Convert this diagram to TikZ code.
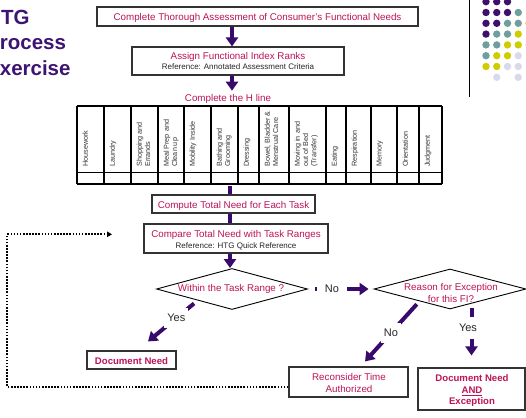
\documentclass[tikz,border=0pt]{standalone}
\usepackage{fontspec}
\setmainfont{Liberation Sans}
\usetikzlibrary{shapes.geometric,arrows.meta,calc}
\definecolor{crim}{HTML}{BC1456}
\definecolor{ttl}{HTML}{3D1472}
\definecolor{arw}{HTML}{380A6B}
\definecolor{dP}{HTML}{3E0F6C}
\definecolor{dT}{HTML}{6E9E9D}
\definecolor{dY}{HTML}{CFCC00}
\definecolor{dL}{HTML}{D9D9EC}
\definecolor{edge}{HTML}{333333}
\begin{document}
\begin{tikzpicture}[x=1pt,y=-1pt,
  box/.style={draw=edge, line width=1.1pt, fill=white, inner sep=0pt},
  txt/.style={anchor=base, inner sep=0pt, text=crim, font=\fontsize{9.8}{11}\selectfont},
  btxt/.style={txt, font=\bfseries\fontsize{9.6}{11}\selectfont},
  reftxt/.style={anchor=base, inner sep=0pt, text=black!85, font=\fontsize{8}{9}\selectfont},
  flow/.style={draw=arw, line width=4pt},
  arr/.style={flow, -{Triangle[length=9pt,width=12pt]}},
  lbl/.style={fill=white, text=black!85, font=\fontsize{11}{13}\selectfont, inner xsep=3pt},
  hdr/.style={rotate=90, anchor=north west, align=left, inner sep=0pt, text=black!80, font=\fontsize{7.2}{8.2}\selectfont},
  dec/.style={diamond, draw=black, line width=0.9pt, inner sep=0pt},
  ttlf/.style={anchor=base west, inner sep=0pt, text=ttl, font=\bfseries\fontsize{20.5}{24}\selectfont},
  loopline/.style={draw=black, line width=2pt, dash pattern=on 1.6pt off 1.5pt, -{Triangle[length=5pt,width=5.5pt]}},
]
\useasboundingbox (0,0) rectangle (526,417);
\fill[white] (0,0) rectangle (526,417);
\begin{scope}
\clip (0,0) rectangle (526,417);

% title
\node[ttlf] (t1) at (-14,25) {HTG};
\node[ttlf] (t2) at (-14,50) {Process};
\node[ttlf] (t3) at (-14,76) {Exercise};

% decoration top right
\draw[line width=0.8pt] (469,0) -- (469,97);
\foreach \c/\r/\col in {0/0/dP,1/0/dP,2/0/dP,
  0/1/dP,1/1/dP,2/1/dP,3/1/dT,
  0/2/dP,1/2/dP,2/2/dT,3/2/dT,4/2/dY,
  0/3/dP,1/3/dT,2/3/dT,3/3/dY,
  0/4/dT,1/4/dT,2/4/dY,3/4/dY,4/4/dL,
  0/5/dT,1/5/dY,2/5/dY,3/5/dL,
  0/6/dY,1/6/dY,2/6/dL,3/6/dL,
  1/7/dL,3/7/dL}
  \fill[\col] ({486+10.75*\c},{1.7+10.8*\r}) circle (3.7pt);

% top boxes
\node[box, minimum width=321pt, minimum height=19pt] (b1) at (257.5,16.5) {};
\node[txt] (b1t) at (257.5,20.5) {Complete Thorough Assessment of Consumer's Functional Needs};
\node[box, minimum width=212pt, minimum height=28pt] (b2) at (238,61) {};
\node[txt] (b2t) at (238,60) {Assign Functional Index Ranks};
\node[reftxt] (b2r) at (238,69.3) {Reference: Annotated Assessment Criteria};
\node[txt, inner sep=3pt] (hl) at (228,101) {Complete the H line};

\draw[arr] ([xshift=-6pt]b2.north |- b1.south) -- ([xshift=-6pt]b2.north);
\draw[arr] ([xshift=-6pt]b2.south) -- ([xshift=-6pt]b2.south |- hl.north);

% table
\begin{scope}[line width=1.1pt]
\draw (77,106) -- (442,106);
\draw (77,172.5) -- (442,172.5);
\draw (77,184) -- (442,184);
\foreach \x in {77,104,131,158,184,211,238,259,289,326,346,371,397,419,442}
  \draw (\x,106) -- (\x,184);
\end{scope}
\foreach \x/\t in {77/Housework, 104/Laundry, 131/{Shopping and\\Errands},
  158/{Meal Prep and\\Clean up}, 184/Mobility Inside, 211/{Bathing and\\Grooming},
  238/Dressing, 259/{Bowel, Bladder \&\\Menstrual Care},
  289/{Moving in and\\out of Bed\\(Transfer)}, 326/Eating, 346/Respiration,
  371/Memory, 397/Orientation, 419/Judgment}
  \node[hdr] at ({\x+5.5},167) {\t};
\coordinate (tb) at (230,184);

% compute / compare
\node[box, minimum width=163pt, minimum height=18pt] (cp) at (233.5,204) {};
\node[txt] (cpt) at (233.5,208) {Compute Total Need for Each Task};
\node[box, minimum width=184pt, minimum height=29pt] (cm) at (236,238.5) {};
\node[txt] (cmt) at (236,237.8) {Compare Total Need with Task Ranges};
\node[reftxt] (cmr) at (236,248) {Reference: HTG Quick Reference};

\draw[flow] ([yshift=-2pt]tb) -- (tb |- cp.north);
\draw[flow] (tb |- cp.south) -- (tb |- cm.north);

% decisions
\node[dec, minimum width=151pt, minimum height=41pt] (d1) at (232,289) {};
\node[txt] (d1t) at (231,291) {Within the Task Range ?};
\node[dec, minimum width=152pt, minimum height=40pt] (d2) at (450,289) {};
\node[txt] (d2t) at (451,290.5) {Reason for Exception};
\node[txt] (d2u) at (451,302.5) {for this FI?};

\draw[arr] (tb |- cm.south) -- (tb |- d1.north);

% outcome boxes
\node[box, minimum width=89pt, minimum height=18pt] (dn) at (131.5,360) {};
\node[btxt] (dnt) at (131.5,364) {Document Need};
\node[box, minimum width=119pt, minimum height=30pt] (rc) at (348.5,382) {};
\node[txt] (rct) at (349,380) {Reconsider Time};
\node[txt] (rcu) at (349,392.7) {Authorized};
\node[box, minimum width=107pt, minimum height=42pt] (dne) at (471.5,389) {};
\node[btxt] (dnet) at (472,381.5) {Document Need};
\node[btxt] (dneu) at (472,393.3) {\underline{AND}};
\node[btxt] (dnev) at (472,404.5) {Exception};

% decision branches
\draw[arr] ([yshift=-4pt]d1.south west) -- node[lbl, pos=0.385, inner ysep=6.5pt] (y1) {Yes} ([xshift=16.5pt,yshift=9pt]dn.north);
\draw[arr] ([xshift=7pt]d1.east) -- node[lbl, pos=0.315, inner xsep=8pt, inner ysep=2pt] (n1) {No} ([xshift=-5pt]d2.west);
\draw[arr] ([xshift=5pt,yshift=-5pt]d2.south west) -- node[lbl, pos=0.5, inner ysep=6.5pt] (n2) {No} ([xshift=16.5pt,yshift=5pt]rc.north);
\draw[arr] ([xshift=21.5pt,yshift=1pt]d2.south) -- node[lbl, pos=0.417, inner ysep=7.5pt, xshift=-3.5pt] (y2) {Yes} ([yshift=12pt]dne.north);

% loop back
\coordinate (lc) at (7.3,234.3);
\coordinate (le) at (112,234.3);
\draw[loopline] ([yshift=-5pt]rc.west) -| (lc) -- (le);
\end{scope}
\end{tikzpicture}
\end{document}
